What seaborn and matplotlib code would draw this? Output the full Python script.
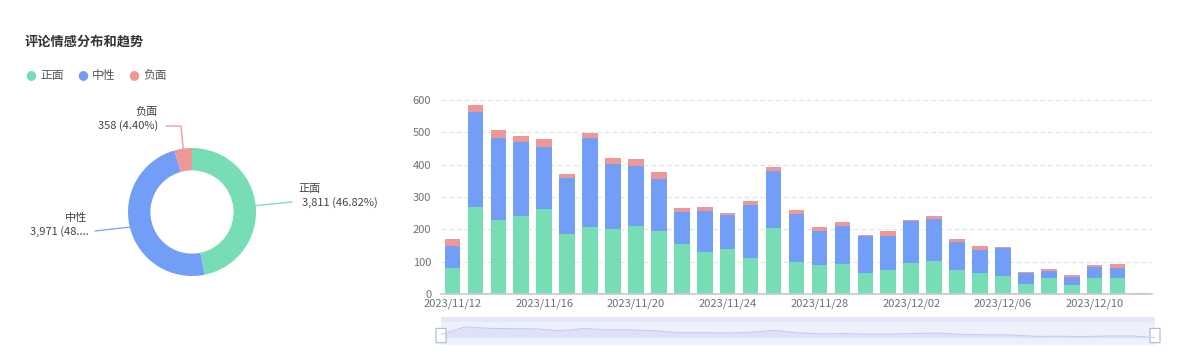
import matplotlib
matplotlib.use("Agg")
import matplotlib.pyplot as plt
from matplotlib.patches import FancyBboxPatch, Rectangle
import seaborn as sns
import numpy as np
import pandas as pd

sns.set_theme(style="white")
plt.rcParams["font.family"] = ["Noto Sans CJK SC", "DejaVu Sans"]

# donut data
sentiments = ["正面", "中性", "负面"]
totals = [3811, 3971, 358]
colors = ["#76DDB4", "#729EF8", "#EE9797"]

# daily trend data
dates = pd.date_range("2023-11-12", "2023-12-12").strftime("%Y/%m/%d").tolist()
positive = [80, 269, 228, 242, 262, 186, 207, 200, 210, 195, 154, 131, 140, 112, 203,
            99, 89, 93, 65, 75, 95, 102, 75, 65, 55, 30, 48, 29, 51, 50, 1]
neutral = [70, 293, 254, 227, 193, 173, 274, 202, 187, 161, 101, 127, 105, 164, 176,
           147, 105, 118, 113, 105, 132, 129, 87, 71, 87, 34, 22, 25, 34, 31, 1]
negative = [19, 21, 24, 19, 23, 12, 16, 20, 21, 20, 11, 12, 7, 12, 13,
            13, 14, 11, 6, 14, 3, 9, 9, 13, 3, 4, 6, 5, 4, 11, 0]

df = pd.DataFrame({"date": dates, "pos": positive, "neu": neutral, "neg": negative})
df["s1"] = df["pos"]
df["s2"] = df["pos"] + df["neu"]
df["s3"] = df["s2"] + df["neg"]

W, H = 1181, 361
fig = plt.figure(figsize=(W / 100, H / 100), dpi=100)

# title + legend
fig.text(25 / W, 1 - 42 / H, "评论情感分布和趋势", fontsize=9.5, fontweight="bold",
         color="#333333", va="center", ha="left")
lx = [31, 83, 134]
for x, name, c in zip(lx, sentiments, colors):
    fig.text(x / W, 1 - 75 / H, "●", color=c, fontsize=9, ha="center", va="center",
             family=["DejaVu Sans"])
    fig.text((x + 9) / W, 1 - 75 / H, name, color="#555555", fontsize=8.5,
             ha="left", va="center")

# donut
cx, cy, r = 192, 212, 64
half = 100
ax_p = fig.add_axes([(cx - half) / W, (H - cy - half) / H, 2 * half / W, 2 * half / H])
ax_p.pie(totals, colors=colors, startangle=90, counterclock=False, radius=1,
         wedgeprops=dict(width=0.35, edgecolor="none"))
lim = half / r
ax_p.set_xlim(-lim, lim)
ax_p.set_ylim(-lim, lim)
ax_p.axis("off")

tot = sum(totals)
labels = []
for v in totals:
    labels.append(f"{v:,} ({v / tot * 100:.2f}%)")
labels[1] = labels[1][:9] + "...."

def px(x, y):
    return (x - cx) / r, (cy - y) / r

fracs = np.array(totals) / tot
starts = 90 - 360 * np.concatenate([[0], np.cumsum(fracs)[:-1]])
mids = np.radians(starts - 180 * fracs)
edge = [(np.cos(a), np.sin(a)) for a in mids]

# 正面 (right)
e = edge[0]
p1 = px(292, 202)
ax_p.plot([e[0], p1[0]], [e[1], p1[1]], color=colors[0], lw=0.9, clip_on=False)
ax_p.text(*px(298, 189), sentiments[0], ha="left", va="center", fontsize=8, color="#444444", clip_on=False)
ax_p.text(*px(302, 203), labels[0], ha="left", va="center", fontsize=8, color="#444444", clip_on=False)
# 中性 (left)
e = edge[1]
p1 = px(95, 231)
ax_p.plot([e[0], p1[0]], [e[1], p1[1]], color=colors[1], lw=0.9, clip_on=False)
ax_p.text(*px(87, 218), sentiments[1], ha="right", va="center", fontsize=8, color="#444444", clip_on=False)
ax_p.text(*px(89, 232), labels[1], ha="right", va="center", fontsize=8, color="#444444", clip_on=False)
# 负面 (top)
e = edge[2]
p1 = px(181, 126)
p2 = px(166, 126)
ax_p.plot([e[0], p1[0], p2[0]], [e[1], p1[1], p2[1]], color=colors[2], lw=0.9, clip_on=False)
ax_p.text(*px(158, 112), sentiments[2], ha="right", va="center", fontsize=8, color="#444444", clip_on=False)
ax_p.text(*px(158, 126), labels[2], ha="right", va="center", fontsize=8, color="#444444", clip_on=False)

# stacked bars
x0, x1, ytop, ybot = 441, 1152, 100, 294
ax = fig.add_axes([x0 / W, (H - ybot) / H, (x1 - x0) / W, (ybot - ytop) / H])
for col, c in [("s3", colors[2]), ("s2", colors[1]), ("s1", colors[0])]:
    sns.barplot(data=df, x="date", y=col, color=c, width=0.68, saturation=1,
                linewidth=0, edgecolor="none", ax=ax)
ax.set_ylim(0, 600)
ax.set_yticks(range(0, 601, 100))
ax.set_xlim(-0.5, len(dates) - 0.5)
ax.set_xticks(range(0, len(dates), 4))
ax.set_xticklabels(dates[::4])
ax.set_xlabel("")
ax.set_ylabel("")
ax.yaxis.grid(True, linestyle=(0, (4, 3)), color="#E0E3EA", lw=0.8)
ax.set_axisbelow(True)
for s in ["top", "right", "left"]:
    ax.spines[s].set_visible(False)
ax.spines["bottom"].set_color("#C8CBD3")
ax.tick_params(axis="both", length=0, labelsize=8, labelcolor="#6E7079")
ax.tick_params(axis="y", pad=7)
ax.tick_params(axis="x", pad=3)

# data zoom slider
sx0, sx1, sy0, sy1 = 441, 1155, 322, 345
ax_s = fig.add_axes([sx0 / W, (H - sy1) / H, (sx1 - sx0) / W, (sy1 - sy0) / H])
idx = np.arange(len(dates))
ax_s.set_facecolor("#EEF0FB")
ax_s.fill_between(idx, 0, df["s3"], color="#DDE1FA", lw=0)
ax_s.plot(idx, df["s3"], color="#C5CCF2", lw=0.8)
ax_s.set_xlim(0, len(dates) - 1)
ax_s.set_ylim(-400, 850)
ax_s.set_xticks([])
ax_s.set_yticks([])
for s in ax_s.spines.values():
    s.set_visible(False)
ax_s.add_patch(Rectangle((0, 1.0), 1, 0.22, transform=ax_s.transAxes, color="#E3E7F8",
                         clip_on=False, lw=0))
for hx in [0, 1]:
    ax_s.add_patch(FancyBboxPatch((hx - 0.005, 0.1), 0.01, 0.62, transform=ax_s.transAxes,
                                  boxstyle="round,pad=0.002", fc="white", ec="#ACB8D1",
                                  lw=0.8, clip_on=False))

fig.savefig("out.png", dpi=100)
